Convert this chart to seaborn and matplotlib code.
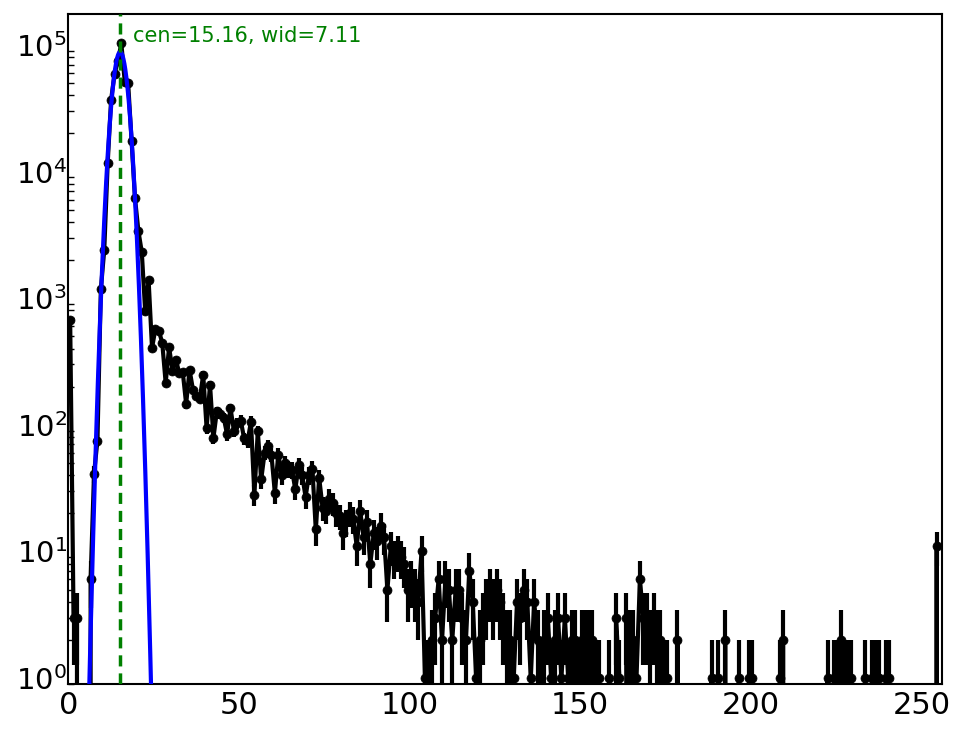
import numpy as np
import matplotlib
matplotlib.use('Agg')
import matplotlib.pyplot as plt
import seaborn as sns

# === Datos del histograma (256 canales) ===
counts = [
    676, 3, 3, 0, 0, 0, 6, 41, 75, 1180,
    2410, 11600, 36800, 58700, 74800, 103000, 51300, 49900, 17500, 6170,
    3400, 2310, 785, 1380, 404, 575, 555, 442, 214, 410,
    268, 326, 255, 262, 146, 272, 189, 170, 160, 249,
    94, 207, 79, 128, 122, 114, 84, 135, 90, 103,
    108, 78, 74, 106, 28, 89, 37, 60, 68, 58,
    29, 58, 40, 50, 45, 44, 31, 48, 40, 27,
    40, 45, 15, 38, 22, 21, 26, 24, 20, 19,
    14, 17, 20, 18, 11, 21, 13, 17, 8, 14,
    12, 16, 13, 5, 11, 9, 10, 9, 8, 5,
    6, 5, 4, 10, 1, 1, 2, 3, 6, 2,
    6, 5, 2, 5, 5, 3, 2, 7, 4, 1,
    2, 3, 4, 5, 4, 5, 4, 3, 2, 2,
    1, 4, 3, 5, 4, 1, 4, 2, 1, 2,
    3, 1, 2, 3, 1, 3, 1, 2, 2, 1,
    2, 2, 2, 2, 1, 1, 0, 0, 1, 0,
    3, 1, 0, 3, 2, 2, 1, 6, 3, 3,
    2, 3, 2, 2, 1, 1, 0, 0, 2, 0,
    0, 0, 0, 0, 0, 0, 0, 0, 1, 0,
    1, 0, 2, 0, 0, 0, 1, 0, 0, 1,
    1, 0, 0, 0, 0, 0, 0, 0, 1, 2,
    0, 0, 0, 0, 0, 0, 0, 0, 0, 0,
    0, 0, 1, 0, 1, 1, 2, 1, 1, 1,
    0, 0, 0, 1, 0, 1, 1, 1, 0, 1,
    1, 0, 0, 0, 0, 0, 0, 0, 0, 0,
    0, 0, 0, 0, 11, 0,
]
bin_centers = np.arange(len(counts)) + 0.5
errors = np.sqrt(counts)

# === Parámetros del ajuste gaussiano ===
cen = 15.16
wid = 7.11
amp = 88000

x_fit = np.linspace(0, 256, 3000)
y_fit = amp * np.exp(-(x_fit - cen) ** 2 / wid)

# === Estilo ===
sns.set_style('white')
plt.rcParams['font.family'] = ['DejaVu Sans']
plt.rcParams['xtick.direction'] = 'in'
plt.rcParams['ytick.direction'] = 'in'

fig, ax = plt.subplots(figsize=(9.64, 7.29), dpi=100)
fig.subplots_adjust(left=0.071, right=0.977, bottom=0.062, top=0.981)

# === Histograma con barras de error ===
ax.errorbar(bin_centers, counts, yerr=errors, fmt='none', ecolor='black',
            elinewidth=3, capsize=0, zorder=2)
sns.lineplot(x=bin_centers, y=counts, ax=ax, color='black', linewidth=3,
             marker='o', markersize=6.5, markeredgecolor='black',
             markeredgewidth=0.5, zorder=3)

# === Ajuste ===
sns.lineplot(x=x_fit, y=y_fit, ax=ax, color='blue', linewidth=3, zorder=4)
ax.axvline(cen, color='green', linestyle='--', linewidth=2.5, dashes=(3.2, 2),
           zorder=5)
ax.text(18.9, 1.18e5, f'cen={cen:.2f}, wid={wid:.2f}', color='green',
        fontsize=15, va='center', ha='left')

ax.set_yscale('log')
ax.set_xlim(0, 256)
ax.set_ylim(0.9, 1.76e5)
ax.set_xlabel('')
ax.set_ylabel('')

ax.tick_params(axis='both', which='major', labelsize=22, length=7, width=1,
               color='black', labelcolor='black')
ax.tick_params(axis='x', which='major', pad=5)
ax.tick_params(axis='y', which='major', labelsize=21, pad=1)
ax.tick_params(axis='y', which='minor', length=4, width=1, left=True,
               color='black')
for s in ax.spines.values():
    s.set_linewidth(1.5)
    s.set_color('black')

plt.savefig('out.png', dpi=100)
